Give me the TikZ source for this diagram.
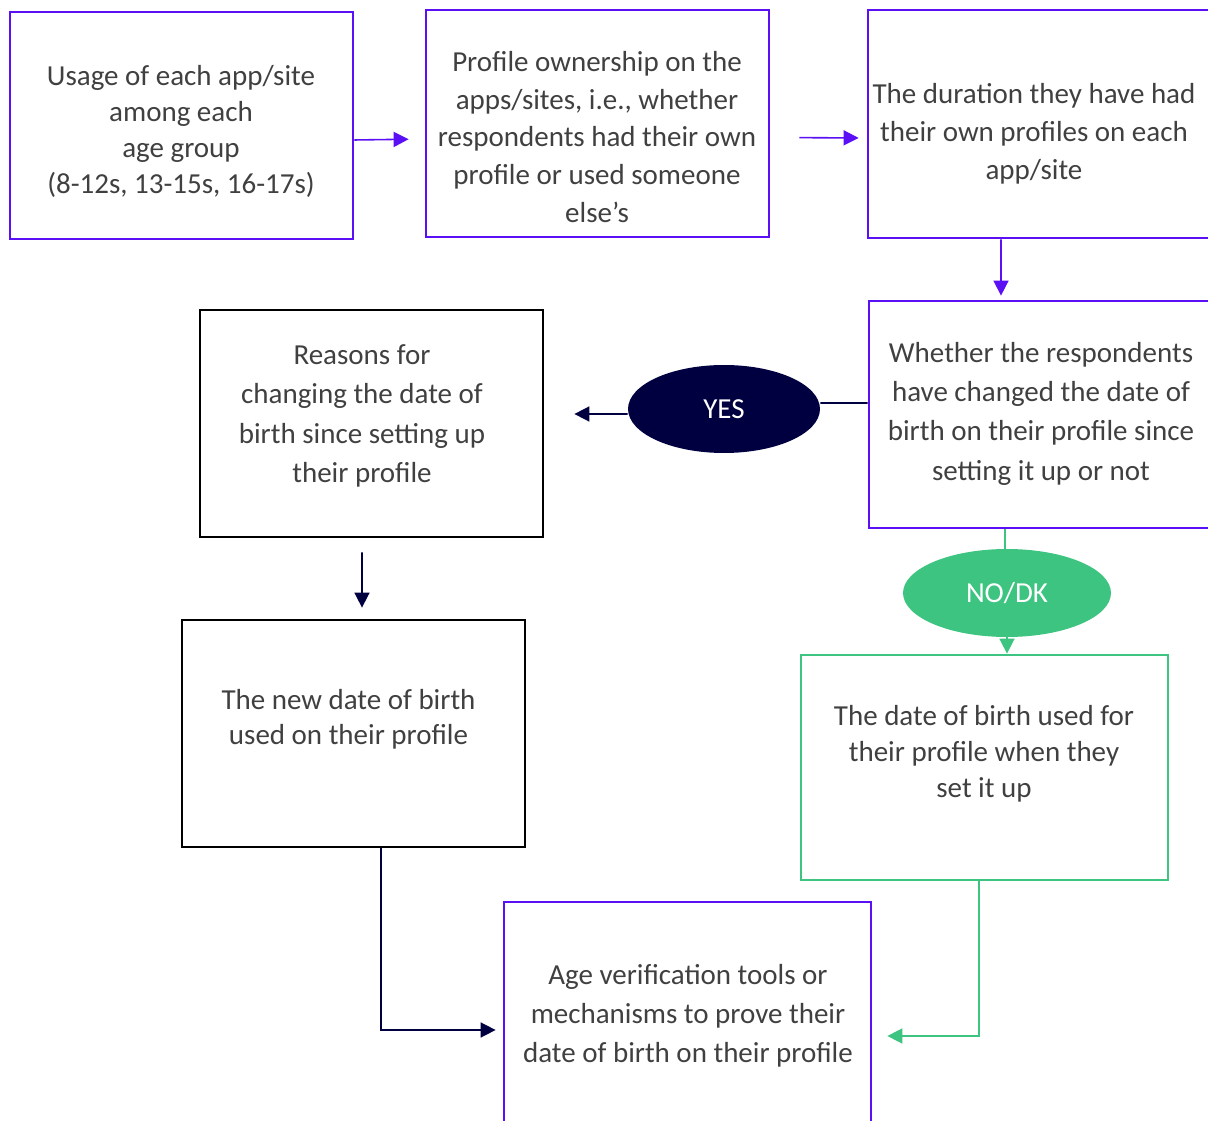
\documentclass[tikz,border=0pt]{standalone}
\usepackage{fontspec}
\setmainfont{Carlito}
\usetikzlibrary{arrows.meta,shapes.geometric}
\definecolor{ofpurple}{HTML}{5A0FF5}
\definecolor{ofnavy}{HTML}{000040}
\definecolor{ofgreen}{HTML}{3CC480}
\definecolor{txtgrey}{HTML}{404040}

\begin{document}
\begin{tikzpicture}[x=0.02cm,y=-0.02cm,
        pbox/.style={draw=ofpurple, line width=1.6pt, inner sep=0pt},
        kbox/.style={draw=black, line width=1.6pt, inner sep=0pt},
        gbox/.style={draw=ofgreen, line width=1.6pt, inner sep=0pt},
        txt/.style={text=txtgrey, align=center, inner sep=0pt},
        bubble/.style={ellipse, inner sep=0pt, minimum height=1.76cm, font=\fontsize{16.5}{20}\selectfont},
        parrow/.style={draw=ofpurple, line width=0.9pt, -{Triangle[length=0.3cm,width=0.3cm]}},
        narrow/.style={draw=ofnavy, line width=0.9pt, -{Triangle[length=0.3cm,width=0.3cm]}},
        garrow/.style={draw=ofgreen, line width=0.9pt, -{Triangle[length=0.3cm,width=0.3cm]}}]
        \clip (0,0) rectangle (1208,1121);
        % boxes
        \node[pbox, minimum width=6.86cm, minimum height=4.54cm] (usage) at (181.5,125.5) {};
        \node[pbox, minimum width=6.86cm, minimum height=4.54cm] (owner) at (597.5,123.5) {};
        \node[pbox, minimum width=6.92cm, minimum height=4.56cm] (duration) at (1041,124) {};
        \node[pbox, minimum width=6.90cm, minimum height=4.54cm] (changed) at (1041.5,414.5) {};
        \node[kbox, minimum width=6.86cm, minimum height=4.54cm] (reasons) at (371.5,423.5) {};
        \node[kbox, minimum width=6.86cm, minimum height=4.54cm] (newdob) at (353.5,733.5) {};
        \node[gbox, minimum width=7.34cm, minimum height=4.50cm] (olddob) at (984.5,767.5) {};
        \node[pbox, minimum width=7.34cm, minimum height=4.80cm] (verify) at (687.5,1022) {};
        % texts
        \node[txt, font=\fontsize{16.5}{20.5}\selectfont] (usagetxt) at (181,131)
                {Usage of each app/site\\among each\\age group\\(8-12s, 13-15s, 16-17s)};
        \node[txt, font=\fontsize{16.5}{21.6}\selectfont] (ownertxt) at (597,137)
                {Profile ownership on the\\apps/sites, i.e., whether\\respondents had their own\\profile or used someone\\else’s};
        \node[txt, font=\fontsize{16.5}{21.6}\selectfont] (durationtxt) at (1034,134)
                {The duration they have had\\their own profiles on each\\app/site};
        \node[txt, font=\fontsize{16.5}{22.4}\selectfont] (changedtxt) at (1041,413.5)
                {Whether the respondents\\have changed the date of\\birth on their profile since\\setting it up or not};
        \node[txt, font=\fontsize{16.5}{22.4}\selectfont] (reasonstxt) at (362,416)
                {Reasons for\\changing the date of\\birth since setting up\\their profile};
        \node[txt, font=\fontsize{16.5}{20}\selectfont] (newdobtxt) at (348.5,719.5)
                {The new date of birth\\used on their profile};
        \node[txt, font=\fontsize{16.5}{20.5}\selectfont] (olddobtxt) at (984,754)
                {The date of birth used for\\their profile when they\\set it up};
        \node[txt, font=\fontsize{16.5}{22.2}\selectfont] (verifytxt) at (688,1016)
                {Age verification tools or\\mechanisms to prove their\\date of birth on their profile};
        % answers
        \node[bubble, fill=ofnavy, text=white, minimum width=3.84cm] (yes) at (724,409) {YES};
        \node[bubble, fill=ofgreen, text=white, minimum width=4.16cm] (nodk) at (1007,593) {NO/DK};
        % connectors
        \draw[parrow, shorten >=0.32cm] ([yshift=-0.29cm]usage.east) -- ([yshift=-0.31cm]owner.west);
        \draw[parrow, shorten <=0.58cm, shorten >=0.16cm] ([yshift=-0.28cm]owner.east) -- ([yshift=-0.28cm]duration.west);
        \draw[parrow, shorten >=0.08cm] ([xshift=-0.8cm]duration.south) -- ([xshift=-0.81cm]changed.north);
        \draw[draw=ofnavy, line width=0.9pt] ([yshift=0.23cm]changed.west) -- ([yshift=0.12cm]yes.east);
        \draw[narrow, shorten >=0.6cm] ([yshift=-0.1cm]yes.west) -- ([yshift=0.19cm]reasons.east);
        \draw[narrow, shorten <=0.28cm, shorten >=0.22cm] ([xshift=-0.19cm]reasons.south) -- ([xshift=0.17cm]newdob.north);
        \draw[narrow, shorten >=0.14cm] ([xshift=0.55cm]newdob.south) |- ([yshift=-0.16cm]verify.west);
        \draw[draw=ofgreen, line width=0.9pt] ([xshift=-0.73cm]changed.south) -- ([xshift=-0.73cm]changed.south |- nodk.north);
        \draw[garrow] (nodk.south) -- (nodk.south |- olddob.north);
        \draw[garrow, shorten >=0.3cm] ([xshift=-0.11cm]olddob.south) |- ([yshift=-0.28cm]verify.east);
\end{tikzpicture}
\end{document}
